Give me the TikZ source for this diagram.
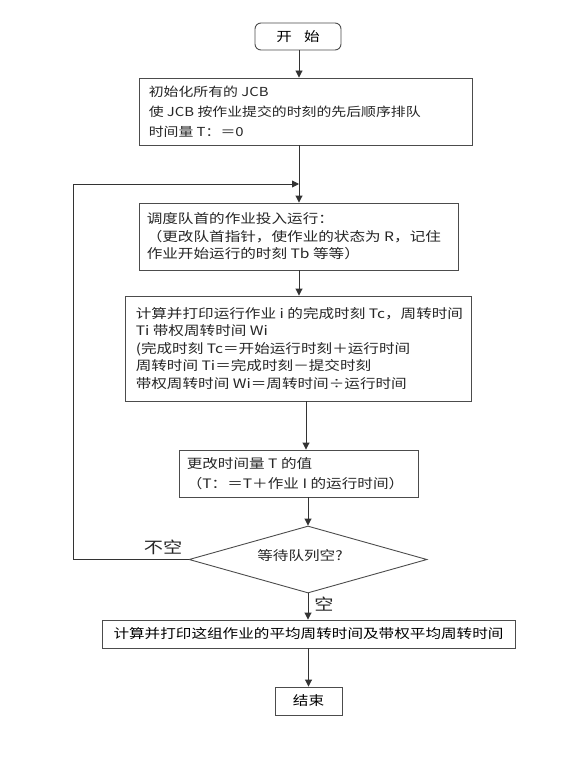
\documentclass[tikz,border=0pt]{standalone}
\usepackage{fontspec}
\setmainfont{Noto Sans CJK SC}[FakeStretch=1.2]
\usetikzlibrary{shapes.geometric,arrows.meta}
\begin{document}
\begin{tikzpicture}[x=1pt,y=-1pt,
 box/.style={draw=black!70, line width=0.9pt, inner sep=0pt, fill=white},
 txt/.style={inner sep=0pt, align=left, text=black!85},
 line/.style={draw=black!80, line width=0.9pt},
 arr/.style={line, -{Triangle[length=7pt,width=7pt]}},
 fa/.style={font=\fontsize{12.4}{20}\selectfont},
 fc/.style={font=\fontsize{13}{20}\selectfont},
 fb/.style={font=\fontsize{13}{17.5}\selectfont},
 fs/.style={font=\fontsize{13}{16}\selectfont},
 fl/.style={font=\fontsize{16}{18}\selectfont}]
\useasboundingbox (0,0) rectangle (580,757);
% boxes
\node[box, rounded corners=6pt, minimum width=86, minimum height=27, fs] (start) at (298,36.5) {开\hspace{12pt}始};
\node[box, minimum width=333, minimum height=67] (b1) at (305.5,111.5) {};
\node[txt, fa, anchor=west] (t1) at ([xshift=10]b1.west) {初始化所有的 JCB\\使 JCB 按作业提交的时刻的先后顺序排队\\时间量 T：＝0};
\node[box, minimum width=319, minimum height=67] (b2) at (298.5,236.5) {};
\node[txt, fb, anchor=west] (t2) at ([xshift=8]b2.west) {调度队首的作业投入运行：\\（更改队首指针，使作业的状态为 R，记住\\作业开始运行的时刻 Tb 等等）};
\node[box, minimum width=346, minimum height=105] (b3) at (298,348.5) {};
\node[txt, fb, anchor=west] (t3) at ([xshift=11]b3.west) {计算并打印运行作业 i 的完成时刻 Tc，周转时间\\Ti 带权周转时间 Wi\\(完成时刻 Tc＝开始运行时刻＋运行时间\\周转时间 Ti＝完成时刻－提交时刻\\带权周转时间 Wi＝周转时间÷运行时间};
\node[box, minimum width=239, minimum height=47] (b4) at (298.5,473.5) {};
\node[txt, fc, anchor=west] (t4) at ([xshift=8]b4.west) {更改时间量 T 的值\\（T：＝T＋作业 I 的运行时间）};
\node[diamond, draw=black!70, line width=0.9pt, minimum width=238, minimum height=67, inner sep=0pt] (dia) at (308,559.5) {};
\node[txt, fs] (td) at (300,556) {等待队列空?};
\node[box, minimum width=413, minimum height=28, fs] (b5) at (308.5,634) {计算并打印这组作业的平均周转时间及带权平均周转时间};
\node[box, minimum width=67, minimum height=28, fs] (end) at (308.5,701) {结束};
% labels
\node[txt, fl] (lno) at (163,547) {不空};
\node[txt, fl] (lyes) at (324,604) {空};
% connectors
\coordinate (cx1) at (299,0);
\coordinate (cx2) at (306,0);
\coordinate (lp) at (73,0);
\coordinate (j) at (299,184);
\draw[arr] (start.south -| cx1) -- (b1.north -| cx1);
\draw[arr] (b1.south -| cx1) -- (b2.north -| cx1);
\draw[arr] (b2.south -| cx1) -- (b3.north -| cx1);
\draw[arr] (b3.south -| cx2) -- (b4.north -| cx2);
\draw[arr] (b4.south -| dia.north) -- (dia.north);
\draw[arr] (dia.south) -- (dia.south |- b5.north);
\draw[arr] (b5.south -| end.north) -- (end.north);
\draw[arr] (dia.west) -- (dia.west -| lp) -- (j -| lp) -- (j);
\end{tikzpicture}
\end{document}
